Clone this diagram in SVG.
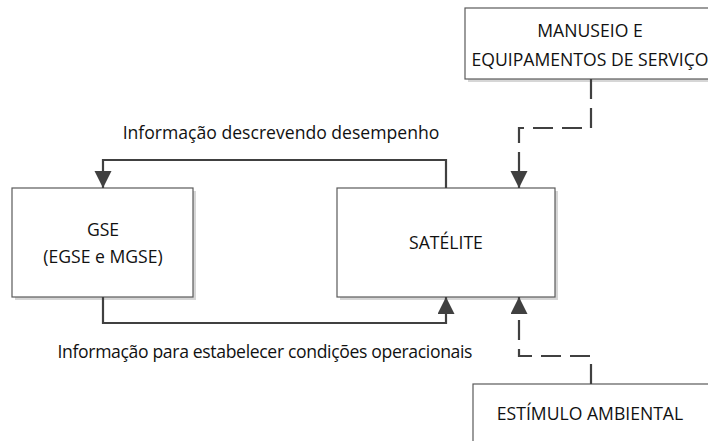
<svg xmlns="http://www.w3.org/2000/svg" width="708" height="441" viewBox="0 0 708 441">
<style>
.box{fill:#fff;stroke:#5a5a5a;stroke-width:1.2}
.shadow{fill:#d6d6d6}
.t{font-family:"Open Sans","Noto Sans",sans-serif;font-size:17.6px;fill:#111;text-anchor:middle}
.line{fill:none;stroke:#404040;stroke-width:2.2}
.dash{stroke-dasharray:20 9}
</style>
<defs>
<marker id="arr" markerUnits="userSpaceOnUse" markerWidth="18" markerHeight="18" refX="17" refY="8.5" orient="auto">
<path d="M0,0 L17,8.5 L0,17 z" fill="#404040"/>
</marker>
</defs>
<rect width="708" height="441" fill="#fff"/>
<g id="manuseio">
<rect class="shadow" x="468" y="11" width="250" height="71"/>
<rect class="box" x="465" y="8" width="250" height="71"/>
<text class="t" x="590" y="37">MANUSEIO E</text>
<text class="t" x="590" y="66">EQUIPAMENTOS DE SERVIÇO</text>
</g>
<g id="gse">
<rect class="shadow" x="15" y="191" width="181" height="109"/>
<rect class="box" x="12" y="188" width="181" height="109"/>
<text class="t" x="103" y="236">GSE</text>
<text class="t" x="103" y="263">(EGSE e MGSE)</text>
</g>
<g id="satelite">
<rect class="shadow" x="340" y="191" width="218" height="109"/>
<rect class="box" x="337" y="188" width="218" height="109"/>
<text class="t" x="446" y="249">SATÉLITE</text>
</g>
<g id="estimulo">
<rect class="box" x="473" y="384" width="245" height="70"/>
<text class="t" x="590" y="420">ESTÍMULO AMBIENTAL</text>
</g>
<g id="connectors">
<path class="line" d="M446,188 V160 H103 V188" marker-end="url(#arr)"/>
<path class="line" d="M103,297 V323 H446 V297" marker-end="url(#arr)"/>
<path class="line dash" d="M591,79 V128 H519 V188" marker-end="url(#arr)"/>
<path class="line dash" d="M591,384 V356 H519 V297" marker-end="url(#arr)"/>
<text class="t" x="281" y="139">Informação descrevendo desempenho</text>
<text class="t" x="265" y="358" textLength="415" lengthAdjust="spacing">Informação para estabelecer condições operacionais</text>
</g>
</svg>
